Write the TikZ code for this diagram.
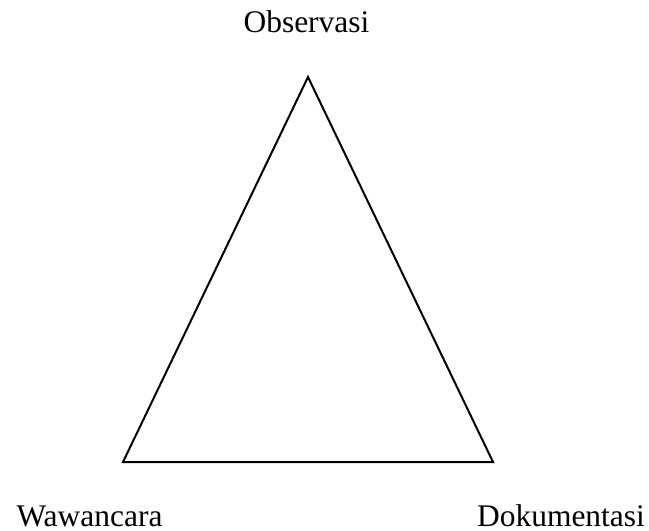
\documentclass[tikz,border=0pt]{standalone}
\usepackage{fontspec}
\setmainfont{Liberation Serif}
\begin{document}
\begin{tikzpicture}[x=0.75pt,y=-0.75pt,
  lbl/.style={anchor=base,inner sep=0pt,font=\fontsize{23.6}{28}\selectfont},
  edge/.style={line width=1.5pt,line join=miter}]
\useasboundingbox (0,0) rectangle (649,531);
\coordinate (top) at (308,77);
\coordinate (bl) at (123,462);
\coordinate (br) at (493,462);
\draw[edge] (top) -- (bl) -- (br) -- cycle;
\node[lbl] (obs) at (306.5,33) {Observasi};
\node[lbl] (waw) at (89.5,526) {Wawancara};
\node[lbl] (dok) at (561,526) {Dokumentasi};
\end{tikzpicture}
\end{document}
